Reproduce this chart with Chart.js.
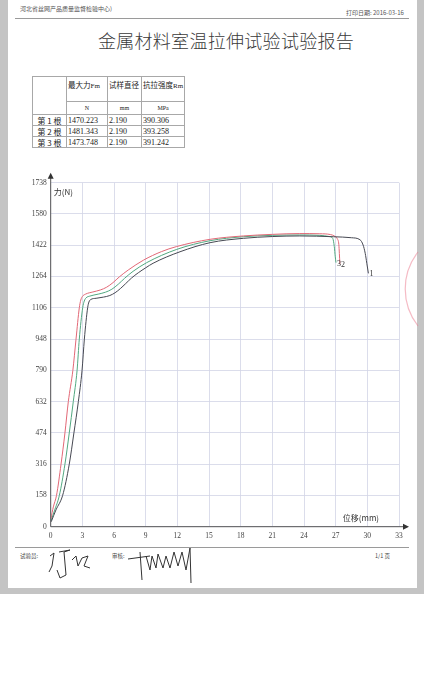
<!DOCTYPE html>
<html>
<head>
<meta charset="utf-8">
<script src="https://cdn.jsdelivr.net/npm/chart.js@4.4.0/dist/chart.umd.min.js"></script>
<style>
    body { margin: 0; background: #fff; width: 424px; height: 700px; position: relative; overflow: hidden;
           font-family: "Liberation Serif", "Noto Sans CJK SC", serif; color: #333; }
    #frame { position: absolute; left: 0; top: 0; width: 424px; height: 594px; background: #c4c4c4; }
    #page { position: absolute; left: 8px; top: 0; width: 409px; height: 588px; background: #fff; }
    .abs { position: absolute; white-space: nowrap; }
    #org { left: 20px; top: 4px; font-size: 6px; color: #555; font-family: "Noto Sans CJK SC"; }
    #date { left: 346px; top: 8px; font-size: 6px; color: #555; font-family: "Noto Sans CJK SC"; }
    .rule { position: absolute; left: 15px; width: 394px; height: 1px; background: #9a9a9a; }
    #title { left: 0; width: 452px; top: 27px; text-align: center; font-size: 18px; color: #3a3a3a;
             font-family: "Noto Sans CJK SC"; font-weight: 300; letter-spacing: 0.3px; }
    table { position: absolute; left: 32px; top: 76px; border-collapse: collapse; table-layout: fixed;
            font-size: 8px; color: #222; }
    td { border: 1px solid #a8a8a8; padding: 0 1px; line-height: 9px; overflow: hidden; white-space: nowrap; color: #222; }
    td.h { vertical-align: top; padding-top: 3px; font-family: "Noto Sans CJK SC"; font-size: 7.5px; }
    td.u { text-align: center; font-size: 6px; }
    td.n { font-family: "Noto Sans CJK SC"; font-size: 8px; text-align: center; }
    #foot1 { left: 20px; top: 552px; font-size: 5.5px; font-family: "Noto Sans CJK SC"; color: #444; }
    #foot2 { left: 112px; top: 552px; font-size: 5.5px; font-family: "Noto Sans CJK SC"; color: #444; }
    #foot3 { left: 375px; top: 552px; font-size: 5.5px; font-family: "Noto Sans CJK SC"; color: #444; }
    #chartBox { position: absolute; left: 0; top: 165px; }
</style>
</head>
<body>
<div id="frame"></div>
<div id="page"></div>
<div class="abs" id="org">河北省丝网产品质量监督检验中心)</div>
<div class="abs" id="date">打印日期: 2016-03-16</div>
<div class="rule" style="top:18px"></div>
<div class="abs" id="title">金属材料室温拉伸试验试验报告</div>
<table id="tbl"></table>
<div id="chartBox"><canvas id="myChart" width="424" height="380"></canvas></div>
<div class="rule" style="top:547px"></div>
<div class="abs" id="foot1">试验员:</div>
<div class="abs" id="foot2">审核:</div>
<div class="abs" id="foot3">1/1 页</div>
<svg class="abs" style="left:0;top:0" width="424" height="700">
    <path d="M418 252 A60 60 0 0 0 418 326" fill="none" stroke="rgba(235,120,140,0.5)" stroke-width="1.2"/>
    <polyline points="50,556 54,553 52,566 49,572" fill="none" stroke="#333" stroke-width="1"/>
    <polyline points="59,552 70,550 64,552 66,575 60,578 57,570" fill="none" stroke="#333" stroke-width="1"/>
    <polyline points="72,560 76,556 78,566 82,558 88,556 84,566 90,568" fill="none" stroke="#333" stroke-width="1"/>
    <polyline points="128,559 150,556" fill="none" stroke="#333" stroke-width="1"/>
    <polyline points="140,552 142,580" fill="none" stroke="#333" stroke-width="1"/>
    <polyline points="146,556 150,570 152,556 156,568 158,554 163,568 166,556 170,568 174,552 178,566 182,552 186,570 190,548 191,583" fill="none" stroke="#333" stroke-width="1"/>
</svg>

<script>
// tick values of the two axes
var forceTicks = [0, 158, 316, 474, 632, 790, 948, 1106, 1264, 1422, 1580, 1738];
var dispTicks = [0, 3, 6, 9, 12, 15, 18, 21, 24, 27, 30, 33];

// table
var sampleNames = ["第 1 根", "第 2 根", "第 3 根"];
var maxForce = ["1470.223", "1481.343", "1473.748"];
var diameter = ["2.190", "2.190", "2.190"];
var tensileStrength = ["390.306", "393.258", "391.242"];

// curve 1 (dark)
var disp1 = [0.05, 0.5, 1.13, 1.76, 2.2, 2.62, 2.97, 3.19, 3.5, 3.62, 3.8, 4.3, 5.0, 5.6, 6.1, 6.6, 7.1, 7.65, 8.3, 9.0, 9.7, 12.25, 15.1, 18.25, 21, 23.6, 26.8, 28.5, 29.3, 29.6, 29.8, 29.95, 30.1];
var force1 = [25, 85, 158, 316, 474, 632, 790, 948, 1106, 1135, 1148, 1154, 1160, 1168, 1182, 1203, 1228, 1256, 1283, 1308, 1331, 1389, 1435, 1457, 1466, 1469, 1465, 1460, 1450, 1423, 1381, 1331, 1280];

// curve 2 (red)
var disp2 = [0.02, 0.25, 0.55, 0.98, 1.35, 1.67, 2.1, 2.4, 2.71, 2.85, 3.0, 3.3, 4.0, 4.7, 5.3, 5.9, 6.5, 7.35, 8.8, 10.5, 11.9, 15.1, 18.25, 21, 23.6, 25.5, 26.5, 26.9, 27.15, 27.3, 27.35, 27.4];
var force2 = [40, 100, 158, 316, 474, 632, 790, 948, 1106, 1145, 1163, 1175, 1186, 1196, 1210, 1233, 1262, 1297, 1347, 1390, 1415, 1452, 1469, 1477, 1481, 1480, 1476, 1468, 1455, 1425, 1380, 1327];

// curve 3 (green)
var disp3 = [0.03, 0.35, 0.82, 1.35, 1.76, 2.14, 2.5, 2.71, 3.03, 3.18, 3.35, 3.7, 4.5, 5.2, 5.8, 6.4, 7.0, 7.8, 9.09, 11.94, 15.1, 18.25, 21, 23.6, 25.5, 26.4, 26.72, 26.87, 26.96, 27.03];
var force3 = [30, 80, 158, 316, 474, 632, 790, 948, 1106, 1140, 1156, 1165, 1175, 1185, 1200, 1225, 1255, 1290, 1334, 1401, 1445, 1465, 1472, 1474, 1472, 1466, 1457, 1415, 1364, 1334];

var curveLabels = ["1", "2", "3"];

document.addEventListener("DOMContentLoaded", function() {

    // build table
    var tbl = document.getElementById("tbl");
    var html = '<colgroup><col style="width:34px"><col style="width:41px"><col style="width:34px"><col style="width:35px"></colgroup>' +
        '<tr style="height:25px"><td rowspan="2"></td>' +
        '<td class="h">最大力<span style="font-family:Liberation Serif;font-size:7px">Fm</span></td>' +
        '<td class="h">试样直径</td>' +
        '<td class="h">抗拉强度<span style="font-family:Liberation Serif;font-size:7px">Rm</span></td></tr>' +
        '<tr style="height:13px"><td class="u">N</td><td class="u">mm</td><td class="u">MPa</td></tr>';
    for (var i = 0; i < sampleNames.length; i++) {
        html += '<tr style="height:11px"><td class="n">' + sampleNames[i] + '</td>' +
            '<td>' + maxForce[i] + '</td><td>' + diameter[i] + '</td><td>' + tensileStrength[i] + '</td></tr>';
    }
    tbl.innerHTML = html;

    var ctx = document.getElementById("myChart").getContext("2d");

    function toPoints(xs, ys) {
        var pts = [];
        for (var i = 0; i < xs.length; i++) {
            pts.push({x: xs[i], y: ys[i]});
        }
        return pts;
    }

    var data = {
        datasets: [{
            label: curveLabels[0],
            borderColor: "rgb(70, 72, 82)",
            data: toPoints(disp1, force1)
        }, {
            label: curveLabels[1],
            borderColor: "rgb(226, 104, 118)",
            data: toPoints(disp2, force2)
        }, {
            label: curveLabels[2],
            borderColor: "rgb(82, 168, 128)",
            data: toPoints(disp3, force3)
        }]
    };

    var axisDeco = {
        id: "axisDeco",
        afterDatasetsDraw: function(chart) {
            var c = chart.ctx;
            var a = chart.chartArea;
            c.save();
            c.strokeStyle = "#555";
            c.fillStyle = "#333";
            c.lineWidth = 1;
            // y axis + arrow
            c.beginPath();
            c.moveTo(a.left, a.bottom);
            c.lineTo(a.left, a.top - 5);
            c.stroke();
            c.beginPath();
            c.moveTo(a.left, a.top - 10);
            c.lineTo(a.left - 3, a.top - 4);
            c.lineTo(a.left + 3, a.top - 4);
            c.fill();
            // x axis + arrow
            c.beginPath();
            c.moveTo(a.left, a.bottom);
            c.lineTo(a.right + 5, a.bottom);
            c.stroke();
            c.beginPath();
            c.moveTo(a.right + 10, a.bottom);
            c.lineTo(a.right + 4, a.bottom - 3);
            c.lineTo(a.right + 4, a.bottom + 3);
            c.fill();
            // axis titles
            c.font = "8px 'Noto Sans CJK SC'";
            c.textBaseline = "middle";
            c.textAlign = "left";
            c.fillText("力(N)", a.left + 3, a.top + 9);
            c.textAlign = "right";
            c.fillText("位移(mm)", a.right - 20, a.bottom - 9);
            // curve end labels
            c.font = "8px 'Liberation Serif'";
            c.textAlign = "left";
            chart.data.datasets.forEach(function(ds, i) {
                var last = ds.data[ds.data.length - 1];
                var px = chart.scales.x.getPixelForValue(last.x);
                var py = chart.scales.y.getPixelForValue(last.y);
                c.fillText(ds.label, px + 1, py + 1);
            });
            c.restore();
        }
    };

    var tickFont = {family: "Liberation Serif", size: 7.5};
    var gridColor = "rgba(210, 213, 230, 0.8)";

    var options = {
        responsive: false,
        animation: false,
        layout: {padding: {left: 0, right: 25, top: 17.7, bottom: 0}},
        plugins: {legend: {display: false}, tooltip: {enabled: false}},
        elements: {
            point: {radius: 0},
            line: {borderWidth: 1, cubicInterpolationMode: "monotone"}
        },
        scales: {
            x: {
                type: "linear",
                min: 0,
                max: 33,
                afterBuildTicks: function(axis) {
                    axis.ticks = dispTicks.map(function(v) { return {value: v}; });
                },
                afterFit: function(s) { s.height = 18.3; },
                grid: {color: gridColor, drawTicks: false},
                border: {display: false},
                ticks: {font: tickFont, color: "#444", padding: 5, maxRotation: 0,
                        callback: function(v) { return String(v); }}
            },
            y: {
                min: 0,
                max: 1738,
                afterBuildTicks: function(axis) {
                    axis.ticks = forceTicks.map(function(v) { return {value: v}; });
                },
                afterFit: function(s) { s.width = 50.7; },
                grid: {color: gridColor, drawTicks: false},
                border: {display: false},
                ticks: {font: tickFont, color: "#444", padding: 4,
                        callback: function(v) { return String(v); }}
            }
        }
    };

    var myNewChart = new Chart(ctx, {
        type: "line",
        data: data,
        options: options,
        plugins: [axisDeco]
    });
});
</script>
</body>
</html>
